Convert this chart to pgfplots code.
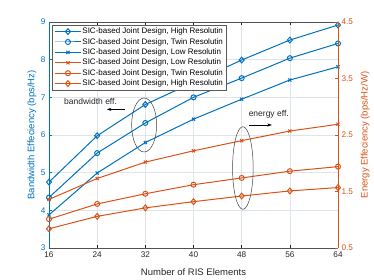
\documentclass[border=0pt]{standalone}
\usepackage{pgfplots}
\pgfplotsset{compat=1.18}
\usetikzlibrary{arrows.meta}
\usepackage{fontspec}
\setmainfont{Liberation Sans}
\definecolor{mblue}{RGB}{0,114,189}
\definecolor{morange}{RGB}{217,83,25}
\definecolor{mgray}{RGB}{38,38,38}
\definecolor{mgrid}{RGB}{222,228,235}

\pgfplotstableread{
x   bh    bt    bl
16  4.75  4.34  3.88
24  5.98  5.52  4.99
32  6.81  6.32  5.80
40  7.40  7.00  6.42
48  7.99  7.51  6.95
56  8.52  8.04  7.46
64  8.92  8.43  7.81
}\bwtable
\pgfplotstableread{
x   el    et    eh
16  1.36  1.01  0.84
24  1.73  1.28  1.06
32  2.02  1.46  1.21
40  2.22  1.62  1.32
48  2.40  1.74  1.42
56  2.57  1.86  1.51
64  2.69  1.94  1.57
}\eetable

\begin{document}
\begin{tikzpicture}
\pgfplotsset{
  every axis/.append style={
    scale only axis, width=289pt, height=226pt,
    xmin=16, xmax=64, xtick={16,24,...,64},
    tick align=inside, major tick length=3pt,
    /pgf/number format/assume math mode=true,
    tick label style={font=\fontsize{8.2}{9}\selectfont},
    label style={font=\fontsize{9.5}{11}\selectfont},
  },
  mline/.style={line width=1pt},
  mdia/.style={mark=diamond, mark size=2.9pt, mark options={xscale=1.15}},
  mcirc/.style={mark=o, mark size=2.5pt},
  mx/.style={mark=x, mark size=2.2pt},
}
\begin{axis}[name=ax1,
  axis y line*=left,
  ymin=3, ymax=9, ytick={3,...,9},
  x axis line style={draw=mgray!80, line width=0.5pt},
  y axis line style={draw=mblue, line width=0.6pt},
  x tick style={draw=mgray, line width=0.4pt},
  y tick style={draw=mblue, line width=0.4pt},
  xticklabel style={text=mgray},
  yticklabel style={text=mblue},
  grid=major, major grid style={draw=mgrid, line width=0.4pt},
  xlabel={Number of RIS Elements},
  xlabel style={at={(axis description cs:0.5,-0.108)}, anchor=center, text=mgray},
  ylabel={Bandwidth Effeciency (bps/Hz)},
  ylabel style={at={(axis description cs:-0.059,0.5)}, anchor=center, text=mblue},
]
\addplot[mline, mblue, mdia] table[x=x,y=bh] {\bwtable};
\addplot[mline, mblue, mcirc] table[x=x,y=bt] {\bwtable};
\addplot[mline, mblue, mx] table[x=x,y=bl] {\bwtable};
\end{axis}
\begin{axis}[name=ax2,
  axis y line*=right, axis x line=none,
  ymin=0.5, ymax=4.5, ytick={0.5,1.5,...,4.5},
  y axis line style={draw=morange, line width=0.6pt},
  y tick style={draw=morange, line width=0.4pt},
  yticklabel style={text=morange},
  ylabel={Energy Effeciency (bps/Hz/W)},
  ylabel style={at={(axis description cs:1.094,0.5)}, anchor=center, rotate=0, text=morange},
  legend cell align=left,
  legend image code/.code={\draw[mark repeat=2, mark phase=2] plot coordinates {(0pt,0pt) (13pt,0pt) (26pt,0pt)};},
  legend style={at={(rel axis cs:0.011,0.987)}, anchor=north west,
    font=\fontsize{8}{9}\selectfont, draw=black!65, line width=0.5pt, fill=white,
    inner xsep=2pt, inner ysep=1.5pt, row sep=0.6pt,
    nodes={inner sep=1pt, text height=6pt, text depth=1.8pt}},
]
\addlegendimage{mline, mblue, mdia}
\addlegendentry{SIC-based Joint Design, High Resolutin}
\addlegendimage{mline, mblue, mcirc}
\addlegendentry{SIC-based Joint Design, Twin Resolutin}
\addlegendimage{mline, mblue, mx}
\addlegendentry{SIC-based Joint Design, Low Resolutin}
\addplot[mline, morange, mx] table[x=x,y=el] {\eetable};
\addlegendentry{SIC-based Joint Design, Low Resolutin}
\addplot[mline, morange, mcirc] table[x=x,y=et] {\eetable};
\addlegendentry{SIC-based Joint Design, Twin Resolutin}
\addplot[mline, morange, mdia] table[x=x,y=eh] {\eetable};
\addlegendentry{SIC-based Joint Design, High Resolutin}
\draw[black!75, line width=0.5pt] (axis cs:31.8,2.677) ellipse [x radius=12.5pt, y radius=27pt];
\draw[black!75, line width=0.5pt] (axis cs:48.2,1.916) ellipse [x radius=10.3pt, y radius=41.3pt];
\node[font=\fontsize{8.5}{10}\selectfont, text=mgray] at (axis cs:22.9,3.093) {bandwidth eff.};
\draw[-{Stealth[length=4.5pt,width=3pt]}, line width=0.5pt] (axis cs:28.6,2.953) -- (axis cs:25.6,2.953);
\node[font=\fontsize{8.5}{10}\selectfont, text=mgray] at (axis cs:52.5,2.872) {energy eff.};
\draw[-{Stealth[length=4.5pt,width=3pt]}, line width=0.5pt] (axis cs:49.2,2.677) -- (axis cs:53.0,2.677);
\end{axis}
\path ([shift={(-49pt,-32pt)}]ax1.south west) rectangle ([shift={(36pt,22pt)}]ax1.north east);
\end{tikzpicture}
\end{document}
